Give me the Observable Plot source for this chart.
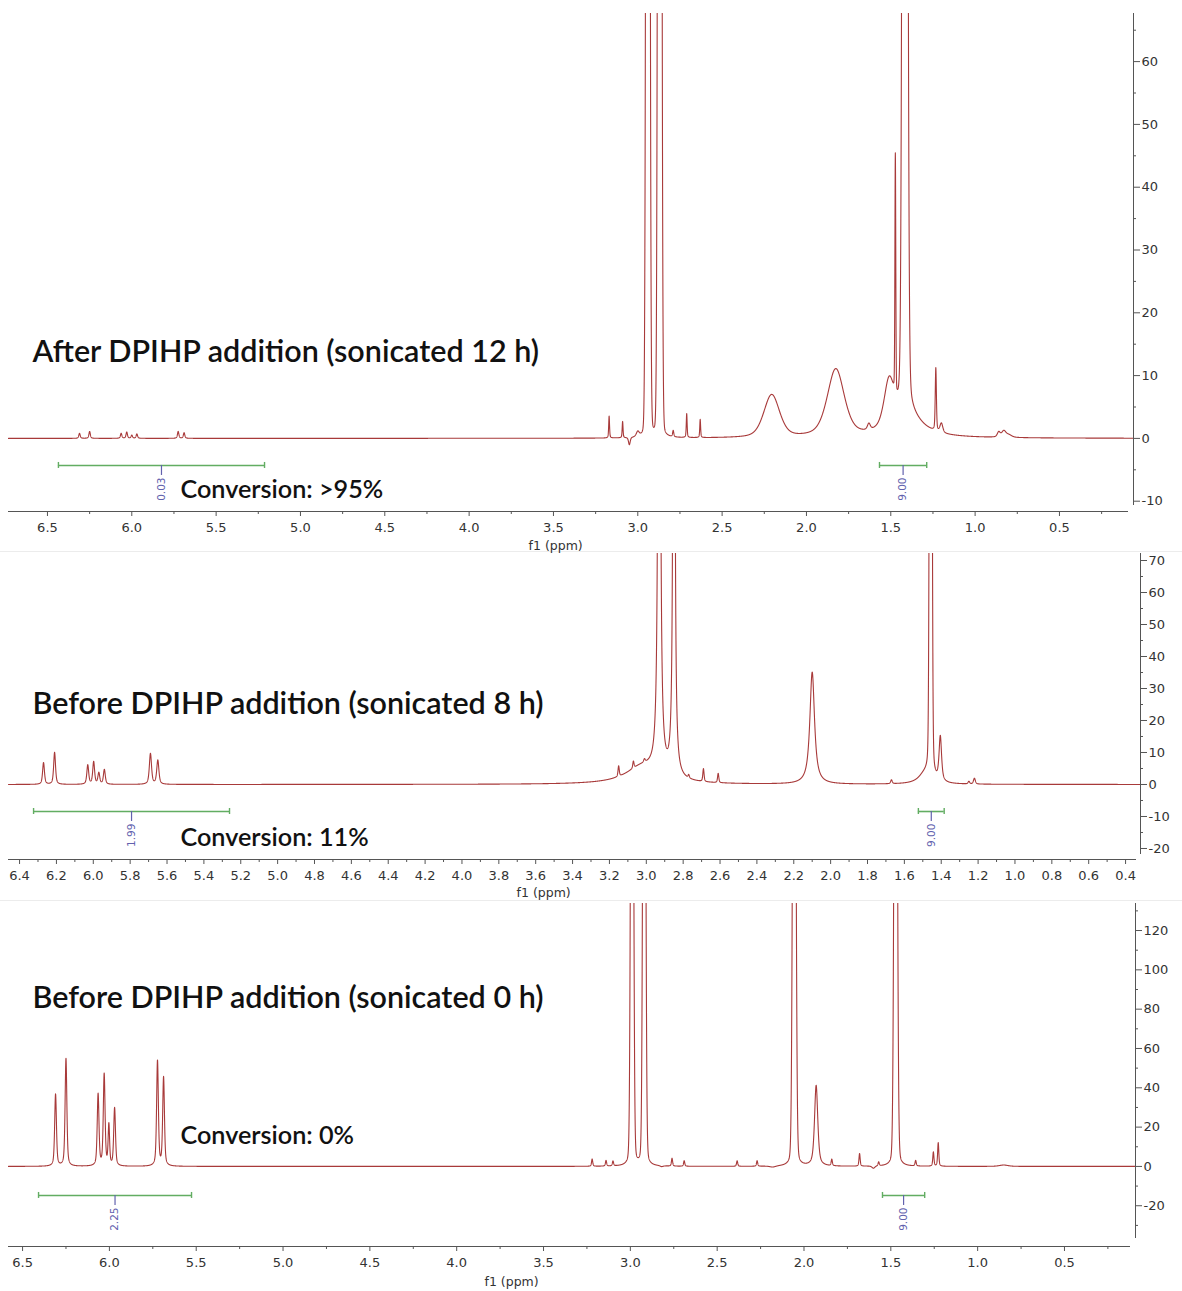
<!DOCTYPE html>
<html>
<head>
<meta charset="utf-8">
<script src="https://cdn.jsdelivr.net/npm/d3@7"></script>
<script src="https://cdn.jsdelivr.net/npm/@observablehq/plot@0.6"></script>
<style>
  html, body { margin: 0; padding: 0; background: #fff; }
  #chart { width: 1182px; }
  #chart svg { display: block; }
  .sep { height: 1px; background: #ececec; width: 1182px; }
</style>
</head>
<body>
<div id="chart"></div>
<script>
// ---------------- DATA ----------------
const titles = [
  "After DPIHP addition (sonicated 12 h)",
  "Before DPIHP addition (sonicated 8 h)",
  "Before DPIHP addition (sonicated 0 h)"
];
const conversions = ["Conversion: >95%", "Conversion: 11%", "Conversion: 0%"];
const axisLabel = "f1 (ppm)";

// Peak lists: [shift (ppm), height, half-width (ppm), Lorentzian fraction]
const peaks12h = [
  [6.31, 0.8, 0.005, 0.6], [6.25, 1.1, 0.005, 0.6],
  [6.063, 0.8, 0.005, 0.6], [6.03, 1.0, 0.005, 0.6], [6.0, 0.5, 0.005, 0.6], [5.97, 0.7, 0.005, 0.6],
  [5.725, 1.1, 0.005, 0.6], [5.69, 0.9, 0.005, 0.6],
  [3.17, 3.5, 0.003, 0.5], [3.09, 2.6, 0.003, 0.5], [3.05, -1.2, 0.006, 0.5], [3.0, 0.8, 0.01, 0.5],
  [2.94, 450, 0.009, 0.03], [2.87, 450, 0.009, 0.03],
  [2.79, 1.0, 0.004, 0.5], [2.71, 3.8, 0.003, 0.5], [2.63, 2.9, 0.003, 0.5],
  [2.206, 6.8, 0.055, 0.4], [1.826, 10.8, 0.06, 0.5], [1.63, 1.0, 0.01, 0.5],
  [1.51, 7.5, 0.035, 0.5], [1.473, 38, 0.003, 0.2], [1.416, 450, 0.012, 0.08], [1.40, 3.5, 0.1, 1],
  [1.233, 10, 0.004, 0.4], [1.20, 1.5, 0.01, 0.5],
  [0.86, 0.8, 0.01, 0.5], [0.83, 1.0, 0.015, 0.5], [0.80, 0.4, 0.02, 0.5]
];
const peaks8h = [
  [6.27, 6.8, 0.006, 0.6], [6.21, 10.0, 0.006, 0.6],
  [6.03, 6.0, 0.006, 0.6], [5.998, 7.0, 0.006, 0.6], [5.97, 3.5, 0.006, 0.6], [5.94, 4.6, 0.006, 0.6],
  [5.69, 9.6, 0.007, 0.6], [5.65, 7.5, 0.007, 0.6],
  [3.15, 3.3, 0.004, 0.5], [3.07, 2.2, 0.004, 0.5], [3.01, 1.0, 0.005, 0.5], [3.02, 5.5, 0.11, 1],
  [2.93, 400, 0.005, 0.9], [2.85, 400, 0.004, 0.9],
  [2.77, 1.0, 0.004, 0.5], [2.69, 4.0, 0.004, 0.5], [2.61, 2.9, 0.004, 0.5],
  [2.10, 35, 0.015, 0.9],
  [1.67, 1.2, 0.005, 0.5], [1.49, 3, 0.04, 1], [1.457, 400, 0.006, 0.15], [1.405, 14, 0.008, 0.7],
  [1.25, 0.8, 0.005, 0.5], [1.22, 1.8, 0.006, 0.5]
];
const peaks0h = [
  [6.31, 36.6, 0.006, 0.5], [6.25, 54.8, 0.006, 0.5],
  [6.065, 36.5, 0.006, 0.5], [6.03, 46.5, 0.006, 0.5], [6.003, 20.5, 0.005, 0.5], [5.97, 29.5, 0.006, 0.5],
  [5.723, 53.5, 0.006, 0.5], [5.688, 45, 0.006, 0.5],
  [3.22, 3.7, 0.004, 0.5], [3.14, 2.9, 0.004, 0.5], [3.10, 2.5, 0.004, 0.5],
  [2.99, 450, 0.008, 0.1], [2.92, 450, 0.008, 0.1],
  [2.82, -0.5, 0.01, 0.5], [2.76, 4.0, 0.004, 0.5], [2.69, 2.8, 0.004, 0.5],
  [2.385, 2.8, 0.004, 0.5], [2.27, 2.8, 0.004, 0.5], [2.18, -0.6, 0.02, 0.5],
  [2.056, 450, 0.009, 0.1], [1.93, 41, 0.011, 0.6], [1.84, 3.3, 0.004, 0.5],
  [1.68, 6.4, 0.004, 0.5], [1.60, -1.2, 0.01, 0.5], [1.57, 2.0, 0.004, 0.5],
  [1.472, 450, 0.009, 0.1], [1.357, 2.8, 0.004, 0.5],
  [1.255, 7.2, 0.004, 0.5], [1.227, 12, 0.004, 0.5], [0.85, 0.7, 0.03, 0.5]
];

// Integration ranges (ppm) and values
const integrals12h = [{from: 6.435, to: 5.213, value: "0.03"}, {from: 1.567, to: 1.287, value: "9.00"}];
const integrals8h  = [{from: 6.324, to: 5.261, value: "1.99"}, {from: 1.524, to: 1.384, value: "9.00"}];
const integrals0h  = [{from: 6.408, to: 5.527, value: "2.25"}, {from: 1.548, to: 1.305, value: "9.00"}];

// Tick values
const xTicksHalf  = [6.5, 6.0, 5.5, 5.0, 4.5, 4.0, 3.5, 3.0, 2.5, 2.0, 1.5, 1.0, 0.5];
const xTicksFifth = [6.4, 6.2, 6.0, 5.8, 5.6, 5.4, 5.2, 5.0, 4.8, 4.6, 4.4, 4.2, 4.0, 3.8, 3.6, 3.4,
                     3.2, 3.0, 2.8, 2.6, 2.4, 2.2, 2.0, 1.8, 1.6, 1.4, 1.2, 1.0, 0.8, 0.6, 0.4];
const yTicks12h = [-10, 0, 10, 20, 30, 40, 50, 60];
const yTicks8h  = [-20, -10, 0, 10, 20, 30, 40, 50, 60, 70];
const yTicks0h  = [-20, 0, 20, 40, 60, 80, 100, 120];

// ---------------- RENDERING ----------------
const W = 1182;
const LINE = "#a83a3a", GREEN = "#62ad62", BLUE = "#6262ae", AXIS = "#555";
const TITLE_FONT = "Lato, 'Open Sans', sans-serif";

function spectrum(peaks, hi, lo) {
  const step = 0.0005, pts = [];
  const n = Math.round((hi - lo) / step);
  for (let i = 0; i <= n; i++) {
    const x = hi - i * step;
    let y = 0;
    for (const [c, h, w, eta] of peaks) {
      const t = (x - c) / w, t2 = t * t;
      y += h * (eta / (1 + t2) + (1 - eta) * Math.exp(-Math.LN2 * t2));
    }
    pts.push({ppm: x, I: y});
  }
  return pts;
}

function minorOf(ticks, lo, hi) {
  const s = Math.abs(ticks[1] - ticks[0]) / 2;
  const out = [];
  const a = Math.min(...ticks) - s, b = Math.max(...ticks) + s;
  for (let v = a; v <= b + 1e-9; v += s) {
    const r = Math.round(v * 1000) / 1000;
    if (r >= lo - 1e-9 && r <= hi + 1e-9 && !ticks.some(t => Math.abs(t - r) < 1e-6)) out.push(r);
  }
  return out;
}

function panel(cfg) {
  const frameH = cfg.height - cfg.mt - cfg.mb;
  const frameW = W - cfg.ml - cfg.mr;
  const [x0, x1] = cfg.xDomain;
  const [y0, y1] = cfg.yDomain;
  const ppu = frameH / (y1 - y0);
  const data = spectrum(cfg.peaks, x0, x1);
  const ints = cfg.integrals.map(d => ({...d, mid: (d.from + d.to) / 2}));
  const ends = ints.flatMap(d => [d.from, d.to]);
  const xMinor = minorOf(cfg.xTicks, x1, x0);
  const yMinor = minorOf(cfg.yTicks, y0, y1);
  const barY = cfg.barY;
  return Plot.plot({
    width: W, height: cfg.height,
    marginTop: cfg.mt, marginBottom: cfg.mb, marginLeft: cfg.ml, marginRight: cfg.mr,
    x: {domain: cfg.xDomain},
    y: {domain: cfg.yDomain},
    style: {fontFamily: "'DejaVu Sans', Verdana, sans-serif", fontSize: "13px", color: "#333", background: "#fff", overflow: "visible"},
    marks: [
      // axis lines
      Plot.ruleY([y0], {stroke: AXIS, insetRight: cfg.xInsetRight}),
      Plot.ruleX([x1], {stroke: AXIS, insetBottom: cfg.yInsetBottom}),
      // x axis
      Plot.axisX(cfg.xTicks, {tickSize: 5, tickPadding: 6, tickFormat: d3.format(".1f"), label: null, stroke: AXIS, fill: "#333", fontSize: 13}),
      Plot.tickX(xMinor, {x: d => d, insetTop: frameH - 3, dy: 3, stroke: AXIS}),
      // y axis (right)
      Plot.axisY(cfg.yTicks, {anchor: "right", tickSize: 6, tickPadding: 2, tickFormat: d => String(d), label: null, stroke: AXIS, fill: "#333", fontSize: 13}),
      Plot.tickY(yMinor, {y: d => d, insetLeft: frameW - 3, dx: 3, stroke: AXIS}),
      // spectrum
      Plot.line(data, {x: "ppm", y: "I", stroke: LINE, strokeWidth: 1.1, clip: true}),
      // integrals
      Plot.ruleY(ints, {y: () => barY, x1: "from", x2: "to", stroke: GREEN, strokeWidth: 1.6}),
      Plot.ruleX(ends, {x: d => d, y1: barY - 3 / ppu, y2: barY + 3 / ppu, stroke: GREEN, strokeWidth: 1.4}),
      Plot.ruleX(ints, {x: "mid", y1: barY, y2: barY - 10 / ppu, stroke: BLUE, strokeWidth: 1.2}),
      Plot.text(ints, {x: "mid", y: () => barY, dy: 12, text: "value", rotate: -90, textAnchor: "end", lineAnchor: "middle", fontSize: 10.5, fill: BLUE}),
      // axis label
      Plot.text([axisLabel], {x: () => cfg.labelPpm, frameAnchor: "bottom", dy: cfg.labelDy, text: d => d, lineAnchor: "middle", fontSize: 12.5, fill: "#333"}),
      // title & conversion
      Plot.text([cfg.title], {frameAnchor: "top-left", dx: cfg.titleDx, dy: cfg.titleDy, text: d => d, textAnchor: "start", lineAnchor: "middle",
        fontSize: 30.5, fontWeight: 600, fontFamily: TITLE_FONT, fill: "#111"}),
      Plot.text([cfg.conversion], {frameAnchor: "top-left", dx: cfg.convDx, dy: cfg.convDy, text: d => d, textAnchor: "start", lineAnchor: "middle",
        fontSize: 25.2, fontWeight: 600, fontFamily: TITLE_FONT, fill: "#111"})
    ]
  });
}

const chart = document.getElementById("chart");
const sep = () => { const d = document.createElement("div"); d.className = "sep"; return d; };

chart.appendChild(panel({
  height: 551, mt: 13, mb: 40, ml: 8, mr: 49,
  xDomain: [6.731, 0.061], yDomain: [-11.64, 67.66],
  xInsetRight: 5, yInsetBottom: 6,
  peaks: peaks12h, integrals: integrals12h, barY: -4.31,
  xTicks: xTicksHalf, yTicks: yTicks12h,
  labelPpm: 3.487, labelDy: 34,
  title: titles[0], titleDx: 24, titleDy: 339,
  conversion: conversions[0], convDx: 172, convDy: 476
}));
chart.appendChild(sep());
chart.appendChild(panel({
  height: 348, mt: 1, mb: 41, ml: 8, mr: 42,
  xDomain: [6.460, 0.319], yDomain: [-23.44, 72.19],
  xInsetRight: 4, yInsetBottom: 5,
  peaks: peaks8h, integrals: integrals8h, barY: -8.44,
  xTicks: xTicksFifth, yTicks: yTicks8h,
  labelPpm: 3.557, labelDy: 33,
  title: titles[1], titleDx: 24, titleDy: 151,
  conversion: conversions[1], convDx: 172, convDy: 284
}));
chart.appendChild(sep());
chart.appendChild(panel({
  height: 390, mt: 2, mb: 45, ml: 8, mr: 47,
  xDomain: [6.581, 0.091], yDomain: [-40.73, 133.75],
  xInsetRight: 5, yInsetBottom: 8,
  peaks: peaks0h, integrals: integrals0h, barY: -14.77,
  xTicks: xTicksHalf, yTicks: yTicks0h,
  labelPpm: 3.684, labelDy: 35,
  title: titles[2], titleDx: 24, titleDy: 95,
  conversion: conversions[2], convDx: 172, convDy: 232
}));
</script>
</body>
</html>
